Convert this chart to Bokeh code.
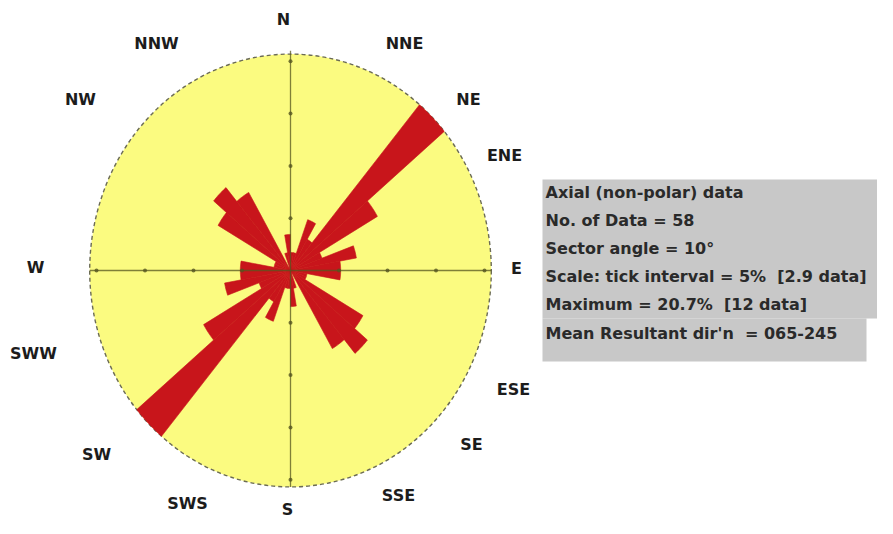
import math
from bokeh.plotting import figure
from bokeh.embed import file_html
from bokeh.resources import INLINE
from bokeh.core.properties import value

# ---------------- data ----------------
sector_starts = list(range(0, 180, 10))          # axial data: mirrored onto 180-360
sector_counts = [1, 1, 3, 2, 12, 6, 2, 4, 3, 3, 1, 1, 5, 6, 5, 0, 1, 2]
n_data = 58
sector_angle = 10
max_pct = 20.7
tick_values = [5, 10, 15, 20]
compass_names = ["N", "NNE", "NE", "ENE", "E", "ESE", "SE", "SSE",
                 "S", "SWS", "SW", "SWW", "W", "NW", "NNW"]
info_lines = [
    "Axial (non-polar) data",
    "No. of Data = 58",
    "Sector angle = 10\u00b0",
    "Scale: tick interval = 5%\u00a0 [2.9 data]",
    "Maximum = 20.7%\u00a0 [12 data]",
    "Mean Resultant dir'n\u00a0 = 065-245",
]

# ---------------- layout (figure pixels) ----------------
W, H = 877, 518
CX, CY = 290, 270
KX, KY = 9.7, 10.46
label_px = [(283, 19), (404, 43), (468, 99), (504, 155), (516, 268), (513, 389),
            (471, 444), (398, 495), (287, 509), (187, 503), (96, 454), (33, 353),
            (35, 267), (80, 99), (156, 43)]
info_x = 545
info_y = [192, 220, 248, 276, 304, 333]

YELLOW = "#fbfb80"
RED = "#c8151b"
OLIVE = "#55551f"
GRAY = "#c8c8c8"


def dx(sx):
    return (sx - CX) / KX


def dy(sy):
    return (CY - sy) / KY


p = figure(width=W, height=H, x_range=(dx(0), dx(W)), y_range=(dy(H), dy(0)),
           output_backend="svg", toolbar_location=None, min_border=0,
           x_axis_location=None, y_axis_location=None)
p.grid.visible = False
p.outline_line_color = None
p.background_fill_color = "white"
p.border_fill_color = "white"

# background disc
p.ellipse(x=[0], y=[0], width=[2 * max_pct], height=[2 * max_pct],
          fill_color=YELLOW, line_color="#6b6b55", line_width=1.4, line_dash="4 3")

# rose sectors
xs, ys = [], []
full_starts = sector_starts + [s + 180 for s in sector_starts]
full_counts = sector_counts + sector_counts
for s, c in zip(full_starts, full_counts):
    if c == 0:
        continue
    r = c / n_data * 100.0
    angs = [s + sector_angle * i / 10 for i in range(11)]
    xs.append([0.0] + [r * math.sin(math.radians(a)) for a in angs])
    ys.append([0.0] + [r * math.cos(math.radians(a)) for a in angs])
p.patches(xs, ys, fill_color=RED, line_color=RED, line_width=0.6)

# cross axes
p.segment(x0=[0, -max_pct], y0=[-max_pct, 0], x1=[0, max_pct], y1=[max_pct + 0.3, 0],
          line_color=OLIVE, line_width=1.3, line_alpha=0.75)
tx = [v for t in tick_values for v in (t, -t)] + [0] * (2 * len(tick_values))
ty = [0] * (2 * len(tick_values)) + [v for t in tick_values for v in (t, -t)]
p.scatter(x=tx, y=ty, size=4, marker="circle", fill_color=OLIVE, line_color=None, alpha=0.8)

# compass labels
p.text(x=[dx(a) for a, b in label_px], y=[dy(b) for a, b in label_px], text=compass_names,
       text_font=value("DejaVu Sans"), text_font_style="bold", text_font_size="16px",
       text_align="center", text_baseline="middle", text_color="#1c1c1c")

# info box
p.quad(left=[dx(542), dx(542)], right=[dx(877), dx(866)],
       top=[dy(179), dy(318)], bottom=[dy(318), dy(361)],
       fill_color=GRAY, line_color=None)
p.text(x=[dx(info_x)] * len(info_lines), y=[dy(v) for v in info_y], text=info_lines,
       text_font=value("DejaVu Sans"), text_font_style="bold", text_font_size="16px",
       text_align="left", text_baseline="middle", text_color="#2a2a2a")

open("out.html", "w").write(file_html(p, INLINE))
